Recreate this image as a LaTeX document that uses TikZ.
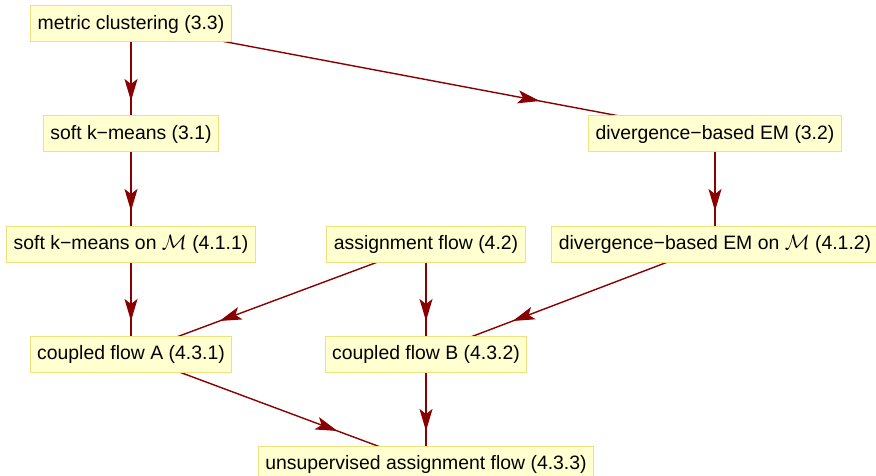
\documentclass[tikz,border=0pt]{standalone}
\usepackage{fontspec}
\setmainfont{Liberation Sans}
\usetikzlibrary{arrows.meta,decorations.markings}
\pgfdeclarelayer{bg}
\pgfsetlayers{bg,main}
\definecolor{boxfill}{RGB}{255,255,208}
\definecolor{boxline}{RGB}{240,224,128}
\definecolor{edgecol}{RGB}{136,0,0}
\begin{document}
\begin{tikzpicture}[x=1pt,y=-1pt,
  vbox/.style={draw=boxline,fill=boxfill,line width=1pt,minimum height=36pt,
    inner xsep=7pt,inner ysep=0pt,font=\fontsize{19.4}{23}\selectfont},
  flow/.style={draw=edgecol,line width=1.4pt,postaction={decorate},
    decoration={markings,mark=at position 0.7 with
      {\arrow{Stealth[length=22pt 0,width=13pt 0,inset=5pt 0]}}}}]
\useasboundingbox (0,0) rectangle (876,476);
\node[vbox] (m)   at (131,24)  {metric clustering (3.3)};
\node[vbox] (sk)  at (131,134) {soft k−means (3.1)};
\node[vbox] (de)  at (715,134) {divergence−based EM (3.2)};
\node[vbox] (skm) at (131,244) {soft k−means on $\mathcal{M}$ (4.1.1)};
\node[vbox] (af)  at (426,244) {assignment flow (4.2)};
\node[vbox] (dem) at (715,244) {divergence−based EM on $\mathcal{M}$ (4.1.2)};
\node[vbox] (ca)  at (131,354) {coupled flow A (4.3.1)};
\node[vbox] (cb)  at (426,354) {coupled flow B (4.3.2)};
\node[vbox] (u)   at (426,464) {unsupervised assignment flow (4.3.3)};
\begin{pgfonlayer}{bg}
\draw[flow] (m.center) -- (sk.center);
\draw[flow] (m.center) -- (de.center);
\draw[flow] (sk.center) -- (skm.center);
\draw[flow] (de.center) -- (dem.center);
\draw[flow] (skm.center) -- (ca.center);
\draw[flow] (af.center) -- (ca.center);
\draw[flow] (af.center) -- (cb.center);
\draw[flow] (dem.center) -- (cb.center);
\draw[flow] (ca.center) -- (u.center);
\draw[flow] (cb.center) -- (u.center);
\end{pgfonlayer}
\end{tikzpicture}
\end{document}
